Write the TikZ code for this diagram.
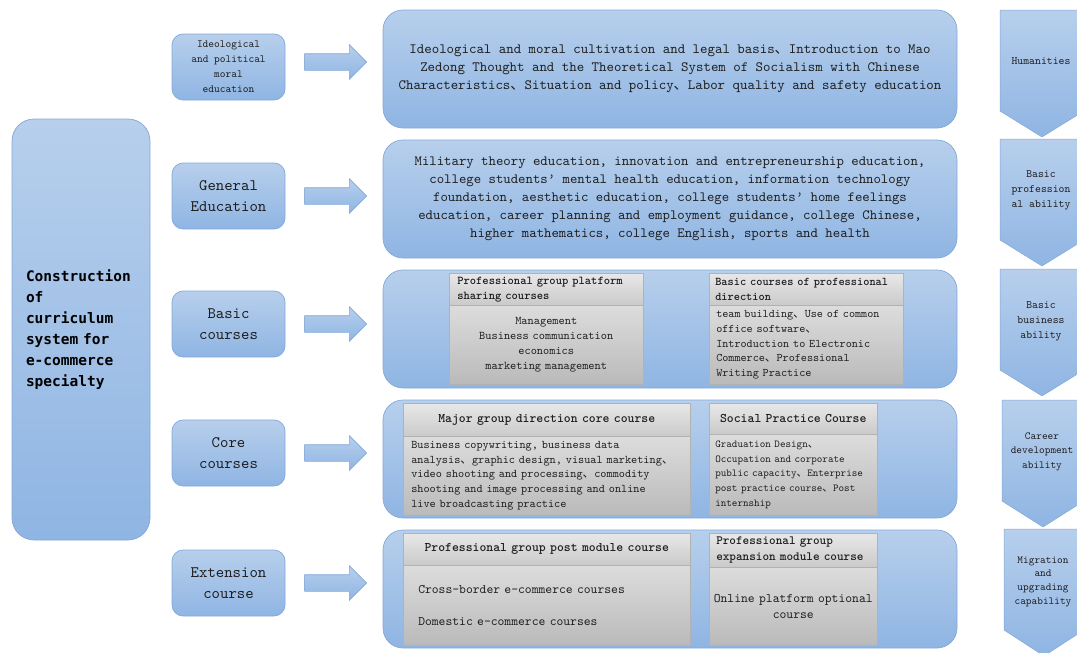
\documentclass[tikz,border=0pt]{standalone}
\usepackage{fontspec}
\setmainfont{lmmono10-regular.otf}[BoldFont=lmmonolt10-bold.otf,ItalicFont=lmmono10-italic.otf]
\newfontfamily\cjk{Noto Sans CJK SC}
\newfontfamily\heifont{DejaVu Sans Mono}
\usetikzlibrary{shapes.arrows,calc}

\newcommand{\dun}{{\cjk 、}}
\definecolor{boxtop}{RGB}{183,207,236}
\definecolor{boxbot}{RGB}{143,181,227}
\definecolor{boxline}{RGB}{132,168,216}
\definecolor{greytop}{RGB}{232,232,232}
\definecolor{greybot}{RGB}{202,202,202}
\definecolor{greyline}{RGB}{178,178,178}
\definecolor{txt}{RGB}{30,30,30}

\begin{document}
\begin{tikzpicture}[x=1pt,y=-1pt,
	bluebox/.style={draw=boxline,line width=0.7pt,top color=boxtop,bottom color=boxbot,inner sep=0pt,align=center,text=txt},
	leftbox/.style={bluebox,rounded corners=11pt,minimum width=113pt,minimum height=66pt,font=\fontsize{16}{21}\selectfont},
	rowbox/.style={bluebox,rounded corners=20pt,minimum width=574pt,minimum height=118pt},
	greyhead/.style={draw=greyline,line width=0.5pt,top color=greytop,bottom color=greybot,anchor=north west,inner sep=0pt,text=txt},
	greybody/.style={greyhead,top color=greytop!95!black,bottom color=greybot!92!black},
	blockarrow/.style={single arrow,draw=boxline,line width=0.6pt,top color=boxtop,bottom color=boxbot,minimum height=62pt,minimum width=34pt,single arrow head extend=9pt,inner xsep=0pt,inner ysep=8pt,single arrow tip angle=90,anchor=tail},
	chevtext/.style={align=center,text=txt,font=\fontsize{11.2}{15}\selectfont}]
	\useasboundingbox (0,0) rectangle (1077,653);

	% main block
	\node[bluebox,rounded corners=22pt,minimum width=138pt,minimum height=421pt,text width=110pt,align=left,text=black,font=\heifont\bfseries\fontsize{14.5}{21}\selectfont] at (81,329.5) (main)
		{Construction\\of\\curriculum\\system for\\e-commerce\\specialty};

	% left column
	\node[leftbox,font=\fontsize{10.9}{15}\selectfont] at (228.5,67) (ideo) {Ideological\\and political\\moral\\education};
	\node[leftbox] at (228.5,196) (general) {General\\Education};
	\node[leftbox] at (228.5,324) (basic) {Basic\\courses};
	\node[leftbox] at (228.5,453) (core) {Core\\courses};
	\node[leftbox] at (228.5,583) (ext) {Extension\\course};

	% contents
	\node[rowbox,font=\fontsize{14.2}{18}\selectfont] at (670,69) (ideoc)
		{Ideological and moral cultivation and legal basis\dun Introduction to Mao\\Zedong Thought and the Theoretical System of Socialism with Chinese\\Characteristics\dun Situation and policy\dun Labor quality and safety education};
	\node[rowbox,font=\fontsize{14.1}{18}\selectfont] at (670,199) (generalc)
		{Military theory education, innovation and entrepreneurship education,\\college students’ mental health education, information technology\\foundation, aesthetic education, college students’ home feelings\\education, career planning and employment guidance, college Chinese,\\higher mathematics, college English, sports and health};
	\node[rowbox] at (670,329) (basicc) {};
	\node[rowbox] at (670,459) (corec) {};
	\node[rowbox] at (670,589) (extc) {};

	% arrows
	\node[blockarrow] at ($(ideo.east)+(19,-5)$) (a1) {};
	\node[blockarrow] at ($(general.east)+(19,0)$) (a2) {};
	\node[blockarrow] at ($(basic.east)+(19,0)$) (a3) {};
	\node[blockarrow] at ($(core.east)+(19,0)$) (a4) {};
	\node[blockarrow] at ($(ext.east)+(19,0)$) (a5) {};

	% basic courses panels
	\node[greyhead,minimum width=194pt,minimum height=32pt,text width=178pt,align=left,font=\bfseries\fontsize{12}{15}\selectfont] at (449,273) (sharehd)
		{Professional group platform\\sharing courses};
	\node[greybody,minimum width=194pt,minimum height=79pt,text width=190pt,align=center,font=\fontsize{11.8}{14.8}\selectfont] at (449,305) (sharebd)
		{Management\\Business communication\\economics\\marketing management};
	\node[greyhead,minimum width=194pt,minimum height=32pt,text width=182pt,align=left,font=\bfseries\fontsize{11.8}{15}\selectfont] at (709,273) (dirhd)
		{Basic courses of professional\\direction};
	\node[greybody,minimum width=194pt,minimum height=79pt,text width=180pt,align=left,font=\fontsize{11.6}{14.8}\selectfont] at (709,305) (dirbd)
		{team building\dun Use of common\\office software\dun\\Introduction to Electronic\\Commerce\dun Professional\\Writing Practice};

	% core courses panels
	\node[greyhead,minimum width=287pt,minimum height=33pt,text width=280pt,align=center,font=\bfseries\fontsize{13.1}{15}\selectfont] at (403,403) (majorhd)
		{Major group direction core course};
	\node[greybody,minimum width=287pt,minimum height=79pt,text width=271pt,align=left,font=\fontsize{11.7}{14.8}\selectfont] at (403,436) (majorbd)
		{Business copywriting, business data\\analysis\dun graphic design, visual marketing\dun\\video shooting and processing\dun commodity\\shooting and image processing and online\\live broadcasting practice};
	\node[greyhead,minimum width=168pt,minimum height=31pt,text width=160pt,align=center,font=\bfseries\fontsize{13.1}{15}\selectfont] at (709,403) (socialhd)
		{Social Practice Course};
	\node[greybody,minimum width=168pt,minimum height=81pt,text width=156pt,align=left,font=\fontsize{10.6}{14.8}\selectfont] at (709,434) (socialbd)
		{Graduation Design\dun\\Occupation and corporate\\public capacity\dun Enterprise\\post practice course\dun Post\\internship};

	% extension panels
	\node[greyhead,minimum width=287pt,minimum height=32pt,text width=280pt,align=center,font=\bfseries\fontsize{13.1}{15}\selectfont] at (403,533) (posthd)
		{Professional group post module course};
	\node[greybody,minimum width=287pt,minimum height=80pt,text width=257pt,align=left,font=\fontsize{13}{16}\selectfont] at (403,565) (postbd)
		{Cross-border e-commerce courses\\[16pt]Domestic e-commerce courses};
	\node[greyhead,minimum width=168pt,minimum height=34pt,text width=154pt,align=left,font=\bfseries\fontsize{12.6}{16}\selectfont] at (709,533) (expandhd)
		{Professional group\\expansion module course};
	\node[greybody,minimum width=168pt,minimum height=78pt,text width=166pt,align=center,font=\fontsize{13}{16}\selectfont] at (709,567) (expandbd)
		{Online platform optional\\course};

	% abilities
	\shade[draw=boxline,line width=0.5pt,top color=boxtop,bottom color=boxbot] (1000,10) -- (1084,10) -- (1084,111) -- (1042,137) -- (1000,111) -- cycle;
	\shade[draw=boxline,line width=0.5pt,top color=boxtop,bottom color=boxbot] (1000,139) -- (1084,139) -- (1084,240) -- (1042,266) -- (1000,240) -- cycle;
	\shade[draw=boxline,line width=0.5pt,top color=boxtop,bottom color=boxbot] (1000,269) -- (1084,269) -- (1084,370) -- (1042,396) -- (1000,370) -- cycle;
	\shade[draw=boxline,line width=0.5pt,top color=boxtop,bottom color=boxbot] (1002,400) -- (1084,400) -- (1084,501) -- (1043,527) -- (1002,501) -- cycle;
	\shade[draw=boxline,line width=0.5pt,top color=boxtop,bottom color=boxbot] (1004,529) -- (1084,529) -- (1084,630) -- (1044,656) -- (1004,630) -- cycle;

	\node[chevtext] at (1041,61) (hum) {Humanities};
	\node[chevtext] at (1041,190.5) (basprof) {Basic\\profession\\al ability};
	\node[chevtext] at (1041,321) (basbus) {Basic\\business\\ability};
	\node[chevtext,font=\fontsize{10.8}{14.5}\selectfont] at (1042,451.5) (career) {Career\\development\\ability};
	\node[chevtext,font=\fontsize{10.8}{13.7}\selectfont] at (1043,581.5) (migr) {Migration\\and\\upgrading\\capability};
\end{tikzpicture}
\end{document}
